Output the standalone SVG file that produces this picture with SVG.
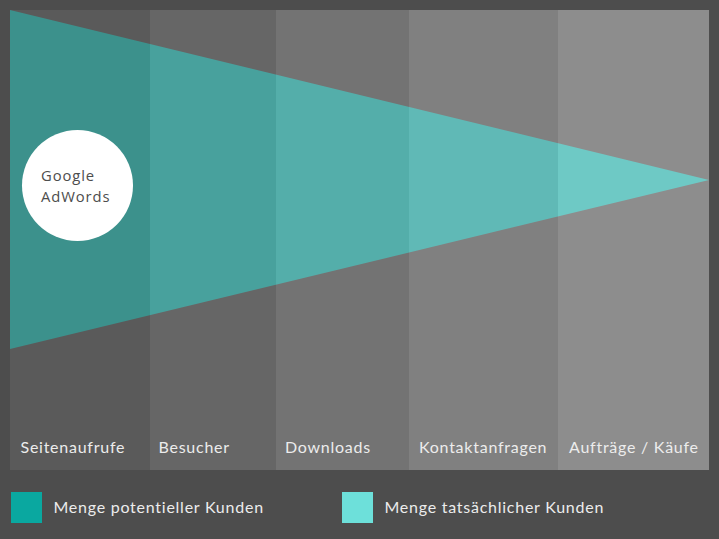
<svg xmlns="http://www.w3.org/2000/svg" width="719" height="539" viewBox="0 0 719 539">
<defs>
<style>
.lbl{font-family:Lato,"Open Sans","Liberation Sans",sans-serif;font-size:16px;letter-spacing:0.75px;fill:#ececec}
.ctext{font-family:"Open Sans","Liberation Sans",sans-serif;font-size:14.8px;letter-spacing:0.9px;fill:#4d4d4d}
</style>
<linearGradient id="tri" gradientUnits="userSpaceOnUse" x1="10" y1="0" x2="709" y2="0">
<stop offset="0" stop-color="#3c918c"/>
<stop offset="0.2003" stop-color="#3c918c"/>
<stop offset="0.2003" stop-color="#48a19d"/>
<stop offset="0.3805" stop-color="#48a19d"/>
<stop offset="0.3805" stop-color="#54aeaa"/>
<stop offset="0.5708" stop-color="#54aeaa"/>
<stop offset="0.5708" stop-color="#60b9b6"/>
<stop offset="0.7840" stop-color="#60b9b6"/>
<stop offset="0.7840" stop-color="#6ec9c5"/>
<stop offset="1" stop-color="#6ec9c5"/>
</linearGradient>
</defs>
<rect x="0" y="0" width="719" height="539" fill="#4d4d4d"/>
<g id="columns">
<rect x="10" y="10" width="140" height="460" fill="#5a5a5a"/>
<rect x="150" y="10" width="126" height="460" fill="#666666"/>
<rect x="276" y="10" width="133" height="460" fill="#737373"/>
<rect x="409" y="10" width="149" height="460" fill="#808080"/>
<rect x="558" y="10" width="151" height="460" fill="#8d8d8d"/>
</g>
<g id="funnel">
<polygon points="10,10 709,180 10,349" fill="url(#tri)"/>
</g>
<g id="google-adwords">
<circle cx="77.5" cy="185.5" r="55.5" fill="#ffffff"/>
<text class="ctext" x="41" y="181">Google</text>
<text class="ctext" x="41" y="201.5">AdWords</text>
</g>
<g id="labels">
<text class="lbl" x="20.5" y="453">Seitenaufrufe</text>
<text class="lbl" x="158.5" y="453">Besucher</text>
<text class="lbl" x="285" y="453">Downloads</text>
<text class="lbl" x="419" y="453">Kontaktanfragen</text>
<text class="lbl" x="569" y="453">Aufträge / Käufe</text>
</g>
<g id="legend">
<rect x="11" y="492" width="31" height="31" fill="#0aa8a0"/>
<text class="lbl" x="53.5" y="513">Menge potentieller Kunden</text>
<rect x="342" y="492" width="31" height="31" fill="#6de0da"/>
<text class="lbl" x="384.5" y="513">Menge tatsächlicher Kunden</text>
</g>
<g id="connectors"/>
</svg>
